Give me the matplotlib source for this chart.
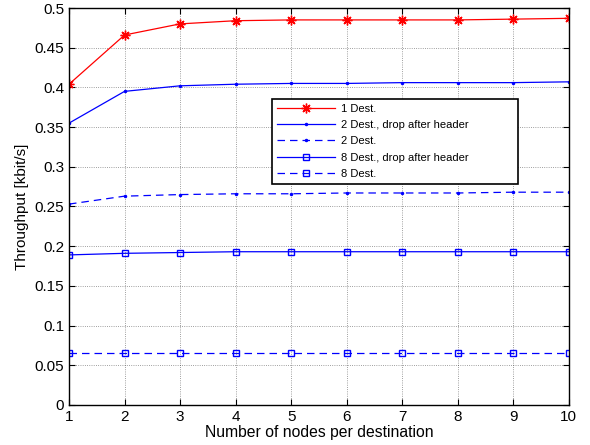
import matplotlib
matplotlib.use("Agg")
from matplotlib import pyplot as plt

plt.rcParams['font.family'] = ['Liberation Sans', 'DejaVu Sans']

nodes = [1, 2, 3, 4, 5, 6, 7, 8, 9, 10]
dest1 = [0.404, 0.466, 0.480, 0.484, 0.485, 0.485, 0.485, 0.485, 0.486, 0.487]
dest2_drop = [0.355, 0.395, 0.402, 0.404, 0.405, 0.405, 0.406, 0.406, 0.406, 0.407]
dest2 = [0.253, 0.263, 0.265, 0.266, 0.266, 0.267, 0.267, 0.267, 0.268, 0.268]
dest8_drop = [0.189, 0.191, 0.192, 0.193, 0.193, 0.193, 0.193, 0.193, 0.193, 0.193]
dest8 = [0.065, 0.065, 0.065, 0.065, 0.065, 0.065, 0.065, 0.065, 0.065, 0.065]

fig = plt.figure(figsize=(5.9, 4.45), dpi=100)
ax = fig.add_axes([0.117, 0.090, 0.847, 0.892])

# matlab-like asterisk: 8 arms
ax.plot(nodes, dest1, color='red', lw=0.9, marker=(8, 2, 0), ms=7, mew=1.0, label='1 Dest.')
ax.plot(nodes, dest2_drop, color='blue', lw=0.9, marker='.', ms=3, label='2 Dest., drop after header')
ax.plot(nodes, dest2, color='blue', lw=0.9, ls='--', dashes=(6, 4), marker='.', ms=3, label='2 Dest.')
ax.plot(nodes, dest8_drop, color='blue', lw=0.9, marker='s', ms=5, mfc='none', label='8 Dest., drop after header')
ax.plot(nodes, dest8, color='blue', lw=0.9, ls='--', dashes=(6, 4), marker='s', ms=5, mfc='none', label='8 Dest.')

ax.set_xlim(1, 10)
ax.set_ylim(0, 0.5)
ax.set_xticks(nodes)
ax.set_yticks([0, 0.05, 0.1, 0.15, 0.2, 0.25, 0.3, 0.35, 0.4, 0.45, 0.5])
ax.set_yticklabels(['0', '0.05', '0.1', '0.15', '0.2', '0.25', '0.3', '0.35', '0.4', '0.45', '0.5'])
ax.tick_params(direction='in', labelsize=11, top=True, right=True, length=4)
ax.grid(True, ls=':', color='black', lw=0.6, alpha=0.5)
for s in ax.spines.values():
    s.set_linewidth(1.0)

ax.set_xlabel('Number of nodes per destination', fontsize=11.3, labelpad=1)
ax.set_ylabel('Throughput [kbit/s]', fontsize=11, labelpad=4)

# legend box roughly x 272..518 px, y 99..182 px
leg = ax.legend(loc='upper left', bbox_to_anchor=(0.406, 0.771 - 0.21, 0.492, 0.21),
                mode='expand', fontsize=8, fancybox=False, framealpha=1,
                edgecolor='black', borderpad=0.45, labelspacing=0.56,
                handlelength=5.2, handletextpad=0.55, borderaxespad=0)
leg.get_frame().set_linewidth(1.2)

fig.savefig('out.png', dpi=100)
